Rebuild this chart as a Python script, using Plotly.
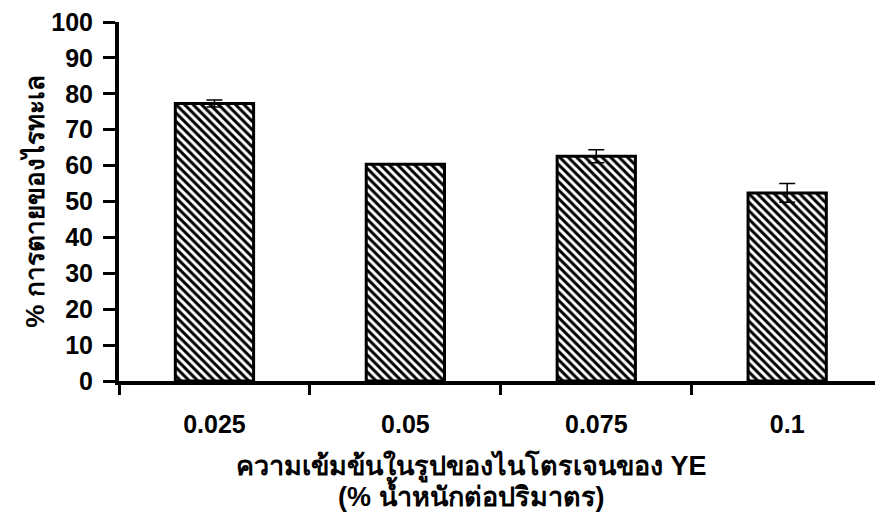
import plotly.graph_objects as go

categories = ["0.025", "0.05", "0.075", "0.1"]
mortality = [77.3, 60.4, 62.6, 52.4]
errors = [1.0, 0.0, 1.8, 2.6]
y_ticks = [0, 10, 20, 30, 40, 50, 60, 70, 80, 90, 100]

x_title_lines = ["ความเข้มข้นในรูปของไนโตรเจนของ YE", "(% น้ำหนักต่อปริมาตร)"]
y_title = "% การตายของไรทะเล"

FONT = "Arial, 'Liberation Sans', 'Noto Sans', sans-serif"
TICKSIZE = 25
TITLESIZE = 27

fig = go.Figure()
fig.add_trace(go.Bar(
    x=categories,
    y=mortality,
    width=0.41,
    marker=dict(
        color="white",
        line=dict(color="black", width=3),
        pattern=dict(shape="\\", fgcolor="black", bgcolor="white",
                     size=6, solidity=0.5, fillmode="replace"),
    ),
    error_y=dict(type="data", array=errors, visible=True,
                 color="black", thickness=1.5, width=8),
))

fig.update_layout(
    width=875, height=515,
    margin=dict(l=119, r=0, t=22, b=134),
    paper_bgcolor="white", plot_bgcolor="white",
    showlegend=False,
    font=dict(family=FONT, size=TICKSIZE, color="black"),
)

fig.update_xaxes(
    type="category",
    range=[-0.5, 3.46],
    tickson="boundaries",
    ticks="outside", ticklen=10, tickwidth=3, tickcolor="black",
    showline=True, linewidth=4, linecolor="black",
    showgrid=False, zeroline=False,
    tickfont=dict(family=FONT, size=TICKSIZE, color="black", weight="bold"),
    ticklabelstandoff=18,
)

fig.update_yaxes(
    range=[0, 100],
    tickmode="array", tickvals=y_ticks, ticktext=[str(v) for v in y_ticks],
    ticks="outside", ticklen=12, tickwidth=3, tickcolor="black",
    showline=True, linewidth=4, linecolor="black",
    showgrid=False, zeroline=False,
    tickfont=dict(family=FONT, size=TICKSIZE, color="black", weight="bold"),
    ticklabelstandoff=5,
    title=dict(text="<b>" + y_title + "</b>",
               font=dict(family=FONT, size=TITLESIZE - 1, color="black"),
               standoff=0),
)

# plot area spans pixel rows 22..381 (height 359)
for line, ypix in zip(x_title_lines, [466, 494]):
    fig.add_annotation(
        text="<b>" + line + "</b>",
        xref="paper", yref="paper",
        x=0.466, y=(381 - ypix) / 359, xanchor="center", yanchor="middle",
        showarrow=False,
        font=dict(family=FONT, size=TITLESIZE, color="black"),
    )

fig.write_html("out.html")
